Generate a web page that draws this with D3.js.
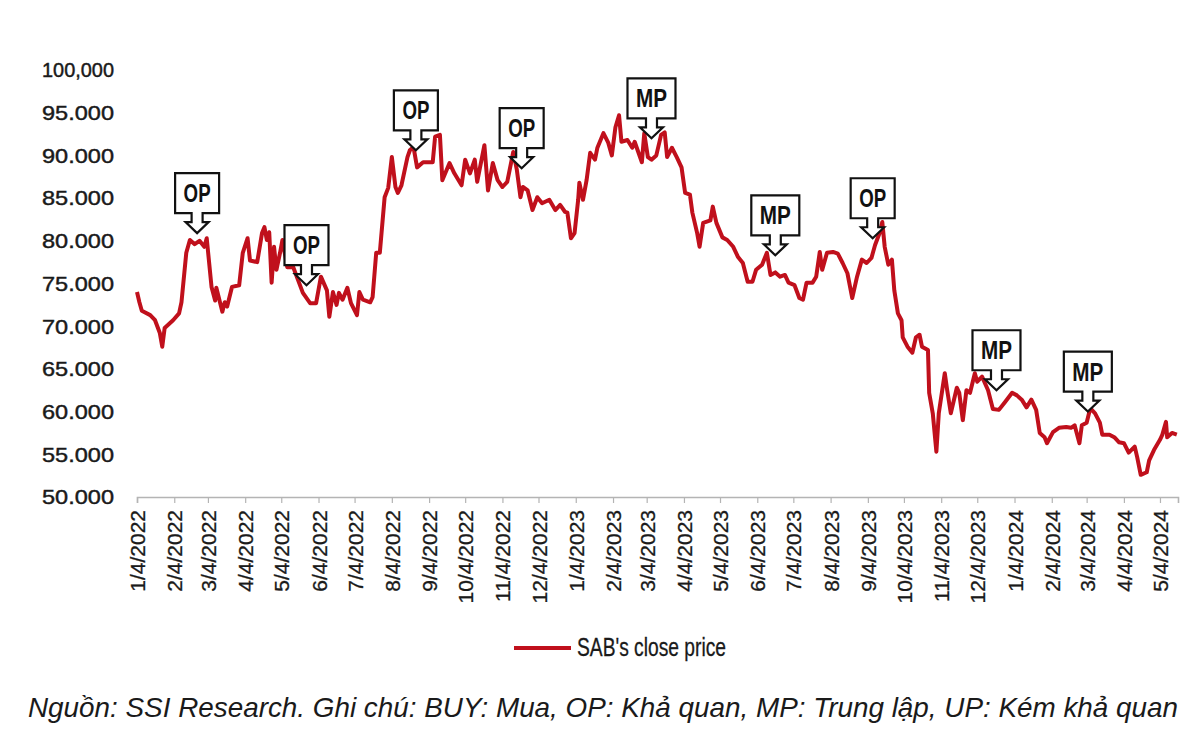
<!DOCTYPE html>
<html>
<head>
<meta charset="utf-8">
<script src="https://cdn.jsdelivr.net/npm/d3@7"></script>
<style>
  body { margin: 0; background: #fff; }
  svg { display: block; }
  text { font-family: 'Liberation Sans Narrow', 'Liberation Sans', Arial, sans-serif; fill: #1a1a1a; }
</style>
</head>
<body>
<svg width="1200" height="752"></svg>
<script>
// SAB close price (date, VND)
var closeSeries = [
  ["2022-01-04",74000],["2022-01-06",72800],["2022-01-08",71800],["2022-01-15",71300],["2022-01-19",70700],
  ["2022-01-23",69200],["2022-01-25",67600],["2022-01-27",69800],["2022-02-03",70700],["2022-02-08",71500],
  ["2022-02-10",72800],["2022-02-14",78600],["2022-02-17",80100],["2022-02-21",79600],["2022-02-25",80000],
  ["2022-03-01",79300],["2022-03-03",80300],["2022-03-07",74600],["2022-03-10",73000],["2022-03-11",74500],
  ["2022-03-16",71700],["2022-03-18",72800],["2022-03-20",72300],["2022-03-24",74600],["2022-03-30",74800],
  ["2022-04-02",78600],["2022-04-06",80300],["2022-04-08",77700],["2022-04-14",77500],["2022-04-18",80900],
  ["2022-04-20",81600],["2022-04-22",80100],["2022-04-24",81000],["2022-04-26",75100],["2022-04-28",79300],
  ["2022-04-30",76600],["2022-05-03",78600],["2022-05-05",80100],["2022-05-09",76900],["2022-05-14",76900],
  ["2022-05-18",75400],["2022-05-22",73900],["2022-05-28",72700],["2022-06-02",72700],["2022-06-06",75800],
  ["2022-06-11",74200],["2022-06-13",71100],["2022-06-16",74000],["2022-06-19",72500],["2022-06-21",73900],
  ["2022-06-24",73100],["2022-06-28",74500],["2022-07-01",72700],["2022-07-06",71300],["2022-07-08",74000],
  ["2022-07-11",73100],["2022-07-17",72800],["2022-07-19",73400],["2022-07-22",78600],["2022-07-25",78600],
  ["2022-07-29",85100],["2022-08-01",86200],["2022-08-04",89800],["2022-08-07",86300],["2022-08-09",85600],
  ["2022-08-12",86500],["2022-08-17",89800],["2022-08-19",90600],["2022-08-22",91000],["2022-08-25",88600],
  ["2022-08-30",89200],["2022-09-07",89200],["2022-09-09",92200],["2022-09-13",92400],["2022-09-15",87100],
  ["2022-09-21",89100],["2022-09-25",87900],["2022-10-01",86500],["2022-10-04",89500],["2022-10-08",87900],
  ["2022-10-12",89500],["2022-10-14",86900],["2022-10-20",91200],["2022-10-23",85900],["2022-10-27",89100],
  ["2022-10-31",87100],["2022-11-04",86300],["2022-11-08",86900],["2022-11-13",90400],["2022-11-16",88300],
  ["2022-11-19",85100],["2022-11-21",86300],["2022-11-25",85900],["2022-11-29",83600],["2022-12-03",85100],
  ["2022-12-07",84400],["2022-12-13",84800],["2022-12-18",83600],["2022-12-22",84200],["2022-12-26",83400],
  ["2022-12-28",83300],["2022-12-31",80300],["2023-01-03",80900],["2023-01-06",84800],["2023-01-07",86800],
  ["2023-01-10",84800],["2023-01-13",87100],["2023-01-16",90300],["2023-01-20",89500],["2023-01-22",90900],
  ["2023-01-27",92600],["2023-01-31",91500],["2023-02-03",90000],["2023-02-06",93300],["2023-02-09",94700],
  ["2023-02-11",91600],["2023-02-16",91800],["2023-02-20",90900],["2023-02-22",91600],["2023-02-25",90400],
  ["2023-02-28",89200],["2023-03-02",92600],["2023-03-05",89800],["2023-03-08",89500],["2023-03-12",90000],
  ["2023-03-16",92400],["2023-03-19",92700],["2023-03-21",89800],["2023-03-25",90900],["2023-03-29",89800],
  ["2023-04-02",88600],["2023-04-05",85600],["2023-04-09",85400],["2023-04-11",83300],["2023-04-15",80900],
  ["2023-04-17",79300],["2023-04-20",82100],["2023-04-26",82400],["2023-04-28",84000],["2023-05-01",82100],
  ["2023-05-06",80400],["2023-05-10",80100],["2023-05-15",79300],["2023-05-19",78100],["2023-05-23",77400],
  ["2023-05-27",75200],["2023-05-31",75200],["2023-06-03",76600],["2023-06-08",77200],["2023-06-12",78600],
  ["2023-06-15",76000],["2023-06-19",76300],["2023-06-23",75800],["2023-06-27",76000],["2023-06-30",75100],
  ["2023-07-05",74800],["2023-07-09",73300],["2023-07-12",73100],["2023-07-15",75100],["2023-07-20",75100],
  ["2023-07-23",75800],["2023-07-26",78700],["2023-07-28",76600],["2023-08-01",78600],["2023-08-06",78700],
  ["2023-08-10",78500],["2023-08-14",77400],["2023-08-18",76200],["2023-08-22",73300],["2023-08-26",75800],
  ["2023-08-30",77800],["2023-09-03",77400],["2023-09-07",78000],["2023-09-10",79500],["2023-09-14",81000],
  ["2023-09-16",82200],["2023-09-18",79300],["2023-09-21",77200],["2023-09-24",77800],["2023-09-26",74200],
  ["2023-09-29",71500],["2023-10-02",70700],["2023-10-03",68700],["2023-10-07",67600],["2023-10-11",66900],
  ["2023-10-14",68700],["2023-10-17",69000],["2023-10-19",67600],["2023-10-24",67200],["2023-10-25",62200],
  ["2023-10-28",59800],["2023-10-31",55300],["2023-11-02",59800],["2023-11-07",64500],["2023-11-09",62500],
  ["2023-11-12",59800],["2023-11-17",62800],["2023-11-19",62200],["2023-11-22",59000],["2023-11-25",62500],
  ["2023-11-28",62200],["2023-12-02",64500],["2023-12-04",63500],["2023-12-08",64100],["2023-12-13",62500],
  ["2023-12-17",60300],["2023-12-22",60200],["2023-12-27",61100],["2024-01-02",62200],["2024-01-06",61900],
  ["2024-01-10",61400],["2024-01-14",60500],["2024-01-18",61400],["2024-01-22",60200],["2024-01-25",57500],
  ["2024-01-29",57000],["2024-01-31",56300],["2024-02-05",57600],["2024-02-10",58100],["2024-02-16",58200],
  ["2024-02-20",58100],["2024-02-23",58400],["2024-02-27",56300],["2024-02-29",58400],["2024-03-04",58700],
  ["2024-03-07",60400],["2024-03-11",59800],["2024-03-15",58700],["2024-03-17",57300],["2024-03-23",57300],
  ["2024-03-27",57000],["2024-03-31",56400],["2024-04-04",56300],["2024-04-08",55200],["2024-04-13",55900],
  ["2024-04-15",54700],["2024-04-18",52600],["2024-04-23",52900],["2024-04-25",54300],["2024-04-29",55500],
  ["2024-05-04",56700],["2024-05-06",57300],["2024-05-09",58800],["2024-05-10",57000],["2024-05-14",57500],
  ["2024-05-18",57300]
];

// rating callouts (arrow tip sits on the price line)
var ratingDates  = ["2022-02-23","2022-05-25","2022-08-24","2022-11-20","2023-03-08","2023-06-19","2023-09-08","2023-12-20","2024-03-05"];
var ratingPrices = [80900, 74800, 90600, 88500, 92000, 78300, 80300, 62500, 60000];
var ratingLabels = ["OP","OP","OP","OP","MP","MP","OP","MP","MP"];

var yTicks = [50000,55000,60000,65000,70000,75000,80000,85000,90000,95000,100000];
var yTickLabels = ["50.000","55.000","60.000","65.000","70.000","75.000","80.000","85.000","90.000","95.000","100,000"];

var xTicks = ["2022-01-04","2022-02-04","2022-03-04","2022-04-04","2022-05-04","2022-06-04","2022-07-04",
  "2022-08-04","2022-09-04","2022-10-04","2022-11-04","2022-12-04","2023-01-04","2023-02-04","2023-03-04",
  "2023-04-04","2023-05-04","2023-06-04","2023-07-04","2023-08-04","2023-09-04","2023-10-04","2023-11-04",
  "2023-12-04","2024-01-04","2024-02-04","2024-03-04","2024-04-04","2024-05-04"];

var seriesName = "SAB's close price";
var footnote = "Nguồn: SSI Research. Ghi chú: BUY: Mua, OP: Khả quan, MP: Trung lập, UP: Kém khả quan";

var parse = d3.timeParse("%Y-%m-%d");
var red = "#c0101c";

var svg = d3.select("svg");

var x = d3.scaleTime()
  .domain([parse("2022-01-04"), parse("2024-05-19")])
  .range([137, 1178]);

var y = d3.scaleLinear()
  .domain([50000, 100000])
  .range([497, 70]);

// y labels (no axis line in the original)
svg.append("g")
  .selectAll("text")
  .data(yTicks)
  .enter()
  .append("text")
    .attr("x", 114)
    .attr("y", d => y(d))
    .attr("dy", "0.35em")
    .attr("text-anchor", "end")
    .attr("textLength", 72)
    .attr("lengthAdjust", "spacingAndGlyphs")
    .style("font-size", "21px")
    .style("stroke", "#1a1a1a")
    .style("stroke-width", 0.45)
    .text((d, i) => yTickLabels[i]);

// x axis
var xAxis = svg.append("g")
  .attr("transform", "translate(0,497)")
  .call(d3.axisBottom(x)
    .tickValues(xTicks.map(parse))
    .tickSizeOuter(0)
    .tickSize(6)
    .tickFormat(d3.timeFormat("%-m/%-d/%Y")));

xAxis.select(".domain").attr("stroke", "#b4b4b4").attr("stroke-width", 1.6);
xAxis.selectAll(".tick line").attr("stroke", "#b4b4b4").attr("stroke-width", 1.2);
xAxis.selectAll(".tick text")
  .attr("transform", "rotate(-90)")
  .attr("text-anchor", "end")
  .attr("x", -13)
  .attr("y", 0)
  .attr("dy", "0.36em")
  .style("font-size", "21px")
  .style("fill", "#1a1a1a")
  .style("stroke", "#1a1a1a")
  .style("stroke-width", 0.3);

// price line
var line = d3.line()
  .x(d => x(parse(d[0])))
  .y(d => y(d[1]));

svg.append("path")
  .datum(closeSeries)
  .attr("d", line)
  .attr("fill", "none")
  .attr("stroke", red)
  .attr("stroke-width", 4)
  .attr("stroke-linejoin", "round");

// callouts
var callouts = svg.append("g")
  .selectAll("g")
  .data(ratingLabels)
  .enter()
  .append("g")
    .attr("transform", (d, i) => `translate(${x(parse(ratingDates[i]))},${y(ratingPrices[i])})`);

callouts.append("path")
  .attr("d", d => {
    var hw = d === "MP" ? 24 : 22;
    return `M${-hw},-60 H${hw} V-20 H5.5 V-11 H11.5 L0,0 L-11.5,-11 H-5.5 V-20 H${-hw} Z`;
  })
  .attr("fill", "#fff")
  .attr("stroke", "#111")
  .attr("stroke-width", 2.2)
  .attr("stroke-linejoin", "miter");

callouts.append("text")
  .attr("x", 0)
  .attr("y", -40)
  .attr("dy", "0.36em")
  .attr("text-anchor", "middle")
  .attr("textLength", d => d === "MP" ? 31 : 27)
  .attr("lengthAdjust", "spacingAndGlyphs")
  .style("font-size", "25px")
  .style("font-weight", "bold")
  .style("fill", "#111")
  .text(d => d);

// legend
svg.append("line")
  .attr("x1", 514).attr("x2", 571)
  .attr("y1", 648).attr("y2", 648)
  .attr("stroke", red)
  .attr("stroke-width", 4);

svg.append("text")
  .attr("x", 577)
  .attr("y", 656)
  .attr("textLength", 149)
  .attr("lengthAdjust", "spacingAndGlyphs")
  .style("font-size", "25px")
  .style("stroke", "#1a1a1a")
  .style("stroke-width", 0.3)
  .text(seriesName);

// source note
svg.append("text")
  .attr("x", 28)
  .attr("y", 717)
  .attr("textLength", 1150)
  .attr("lengthAdjust", "spacingAndGlyphs")
  .style("font-size", "28px")
  .style("font-style", "italic")
  .style("font-family", "'Liberation Sans', Arial, sans-serif")
  .text(footnote);
</script>
</body>
</html>
